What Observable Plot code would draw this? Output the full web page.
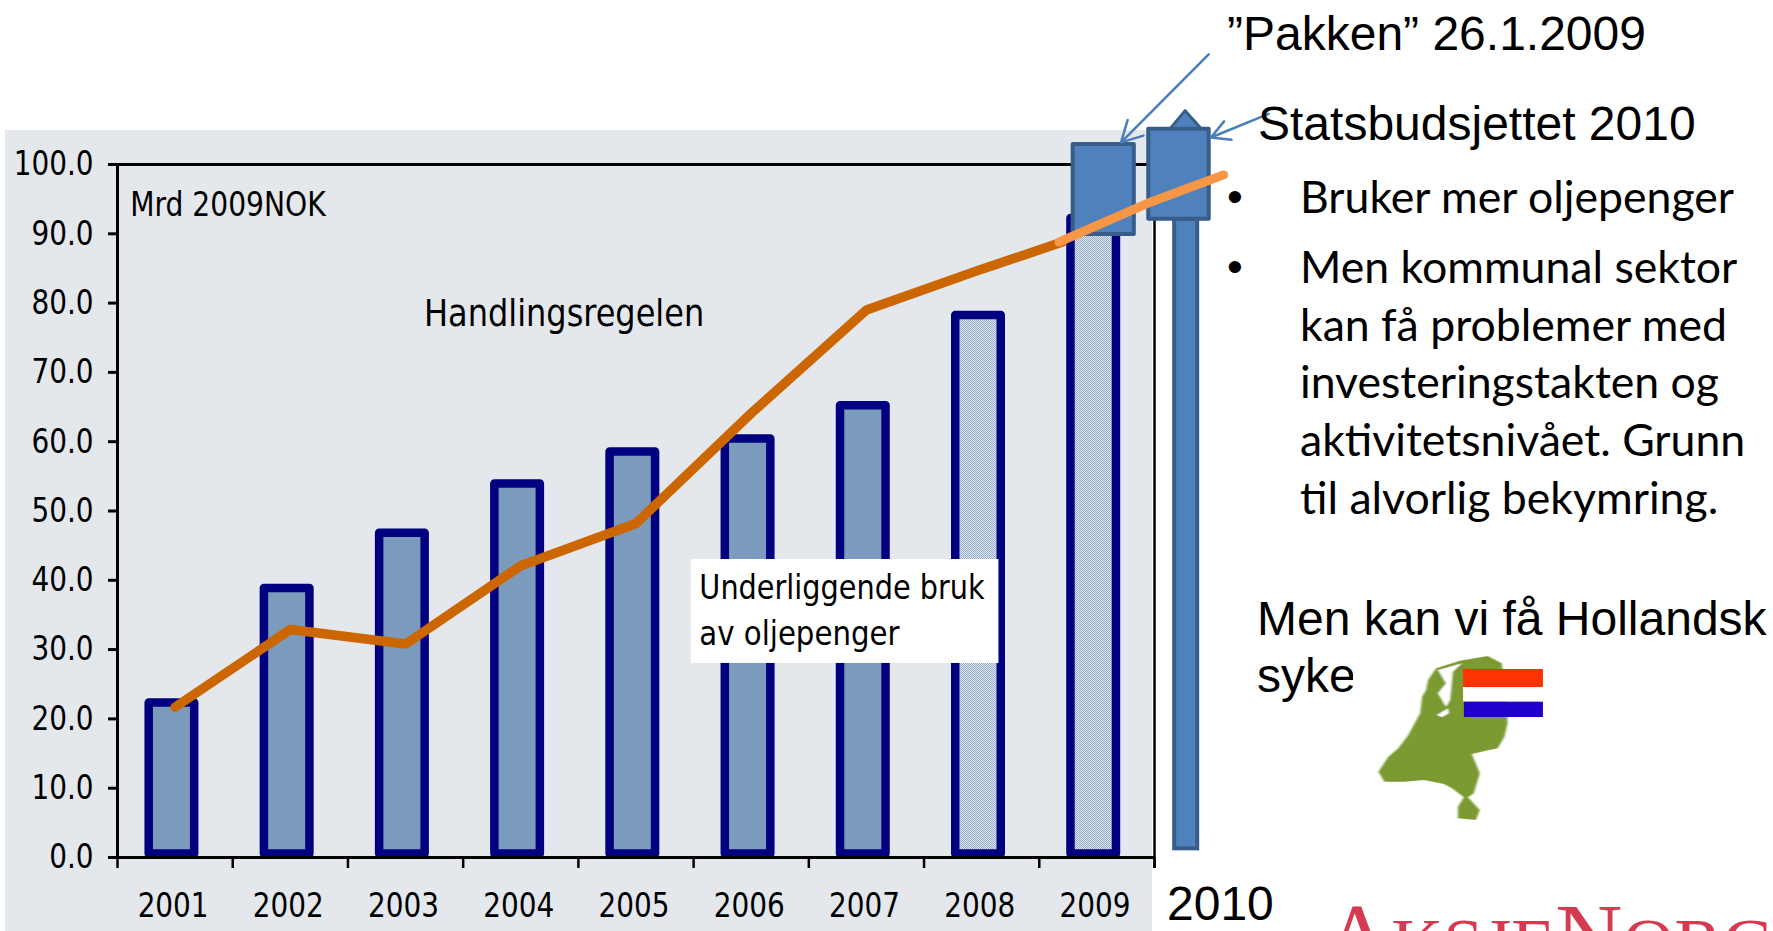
<!DOCTYPE html>
<html><head><meta charset="utf-8">
<script src="https://cdn.jsdelivr.net/npm/d3@7"></script>
<script src="https://cdn.jsdelivr.net/npm/@observablehq/plot@0.6"></script>
<style>
html,body{margin:0;padding:0;background:#fff;overflow:hidden}
#page{position:relative;width:1773px;height:931px;overflow:hidden;background:#fff}
#bg{position:absolute;left:5px;top:130px;width:1147px;height:801px;background:#e4e8ed}
#chart{position:absolute;left:0;top:0}
#chart svg{overflow:visible;background:transparent}
#mask{position:absolute;left:1353px;top:655px;width:230px;height:175px;background:#fff}
</style></head><body>
<div id="page"><div id="bg"></div><div id="chart"></div><div id="over"></div></div>
<script>
const years = [2001,2002,2003,2004,2005,2006,2007,2008,2009];
const barValues = [22.3,38.8,46.8,53.9,58.5,60.4,65.2,78.2,92.2];
const lineYears = [2001,2002,2003,2004,2005,2006,2007,2008,2008.7];
const lineValues = [21.7,32.9,30.8,42.1,48.2,64.1,79.0,84.9,88.8];
const lightYears = [2008.67,2009.44,2010.1];
const lightValues = [88.8,94.4,98.5];
const boundaries = [2000.5,2001.5,2002.5,2003.5,2004.5,2005.5,2006.5,2007.5,2008.5,2009.5];
const yTicks = [0,10,20,30,40,50,60,70,80,90,100];
const chartFont = "'DejaVu Sans Condensed','DejaVu Sans',sans-serif";
const barTable = years.map((y,i)=>({year:y,value:barValues[i],pattern:y>=2008}));
const lineTable = lineYears.map((y,i)=>({year:y,value:lineValues[i]}));
const lightTable = lightYears.map((y,i)=>({year:y,value:lightValues[i]}));
const capTable = [{x:2009.64,y:105.1},{x:2009.77,y:107.7},{x:2009.91,y:105.1}];
const boxes = [
  {x1:2008.794,x2:2009.325,y1:89.9,y2:102.9},
  {x1:2009.45,x2:2009.975,y1:92.1,y2:105.1}
];
const arrows = [
  {x1:2009.97,y1:115.9,x2:2009.21,y2:103.2},
  {x1:2010.49,y1:107.3,x2:2009.99,y2:103.9}
];
const blue="#4f81bd", blueDark="#385d8a", navy="#000080";

const defs = () => {
  const s = d3.create("svg:defs");
  const p = s.append("pattern").attr("id","stipple").attr("width",2).attr("height",2).attr("patternUnits","userSpaceOnUse");
  p.append("rect").attr("width",2).attr("height",2).attr("fill","#dfe6ee");
  p.append("rect").attr("width",1).attr("height",1).attr("fill","#93aecb");
  p.append("rect").attr("x",1).attr("y",1).attr("width",1).attr("height",1).attr("fill","#93aecb");
  return s.node();
};

const plot = Plot.plot({
  width:1773,height:931,marginLeft:117,marginRight:619,marginTop:164,marginBottom:74,
  style:{fontFamily:chartFont,background:"transparent",overflow:"visible"},
  x:{domain:[2000.5,2009.5],axis:null},
  y:{domain:[0,100],axis:null},
  marks:[
    defs,
    Plot.rect(barTable,{x1:d=>d.year-0.225,x2:d=>d.year+0.17,y1:0.5,y2:"value",
      fill:d=>d.pattern?"url(#stipple)":"#7a9bbc",stroke:navy,strokeWidth:8.5,strokeLinejoin:"round"}),
    Plot.ruleY([100],{stroke:"#000",strokeWidth:3}),
    Plot.ruleY([0],{stroke:"#000",strokeWidth:3}),
    Plot.ruleX([2000.5],{y1:0,y2:100,stroke:"#000",strokeWidth:3}),
    Plot.ruleX([2009.5],{y1:-1.6,y2:100,stroke:"#000",strokeWidth:2.5}),
    Plot.axisY({ticks:yTicks,tickFormat:d=>d.toFixed(1),tickSize:9,tickPadding:15,fontSize:31,strokeWidth:3,stroke:"#000",label:null,color:"#000"}),
    Plot.axisX({ticks:boundaries,tickFormat:()=>"",tickSize:11,strokeWidth:2.5,stroke:"#000",label:null}),
    Plot.axisX({ticks:years,tickFormat:d=>String(d),tickSize:0,tickPadding:35,dx:-2,fontSize:31,label:null}),
    Plot.line(lineTable,{x:"year",y:"value",stroke:"#cc6600",strokeWidth:9.5,strokeLinejoin:"miter"}),
    Plot.rect([{x1:2005.48,x2:2008.15,y1:28,y2:43}],{x1:"x1",x2:"x2",y1:"y1",y2:"y2",fill:"#fff"}),
    Plot.text(["Mrd 2009NOK"],{x:2000.61,y:94.2,text:d=>d,textAnchor:"start",fontSize:31,fill:"#000"}),
    Plot.text(["Handlingsregelen"],{x:2003.16,y:78.5,text:d=>d,textAnchor:"start",fontSize:35,fill:"#000"}),
    Plot.text(["Underliggende bruk"],{x:2005.55,y:38.9,text:d=>d,textAnchor:"start",fontSize:31,fill:"#000"}),
    Plot.text(["av oljepenger"],{x:2005.55,y:32.3,text:d=>d,textAnchor:"start",fontSize:31,fill:"#000"}),
    Plot.areaY(capTable,{x:"x",y1:105.1,y2:"y",fill:blue,stroke:blueDark,strokeWidth:3}),
    Plot.rect([0],{x1:2009.675,x2:2009.875,y1:1.25,y2:92.1,fill:blue,stroke:blueDark,strokeWidth:4}),
    Plot.rect(boxes,{x1:"x1",x2:"x2",y1:"y1",y2:"y2",fill:blue,stroke:blueDark,strokeWidth:4,strokeLinejoin:"round"}),
    Plot.line(lightTable,{x:"year",y:"value",stroke:"#f79646",strokeWidth:9}),
    Plot.arrow(arrows,{x1:"x1",y1:"y1",x2:"x2",y2:"y2",stroke:"#4a7ebb",strokeWidth:2.5,headLength:14,bend:0,headAngle:57,inset:0})
  ]
});
document.getElementById("chart").append(plot);

// The reference's chart font is tall and narrow: enlarge the glyphs, keep the run length.
const stretch = {"Handlingsregelen":[38,1.016],"Underliggende bruk":[34,1.03],"av oljepenger":[34,1.047],"Mrd 2009NOK":[34,1.01]};
plot.querySelectorAll("text").forEach(t=>{
  const cfg = stretch[t.textContent] || [34,1.0];
  const targets = t.querySelector("tspan") ? [...t.querySelectorAll("tspan")] : [t];
  targets.forEach(n=>{
    const len = n.getComputedTextLength();
    if(!len) return;
    n.setAttribute("font-size",cfg[0]); n.style.fontSize=cfg[0]+"px";
    n.setAttribute("textLength",len*cfg[1]);
    n.setAttribute("lengthAdjust","spacingAndGlyphs");
  });
});

const sansFont="'Liberation Sans',Arial,sans-serif", bodyFont="Lato,'Noto Sans',sans-serif";
const overlayTexts = [
  {s:"\u201dPakken\u201d 26.1.2009",x:1227,b:50,f:48,c:sansFont},
  {s:"Statsbudsjettet 2010",x:1258,b:140,f:48,c:sansFont},
  {s:"2010",x:1167,b:920,f:48,c:sansFont},
  {s:"\u2022",x:1227,b:212,f:45,c:sansFont},
  {s:"Bruker mer oljepenger",x:1300,b:213,f:44.6,c:bodyFont},
  {s:"\u2022",x:1227,b:282,f:45,c:sansFont},
  {s:"Men kommunal sektor",x:1300,b:283,f:44.6,c:bodyFont},
  {s:"kan f\u00e5 problemer med",x:1300,b:341,f:44.6,c:bodyFont},
  {s:"investeringstakten og",x:1300,b:398,f:44.6,c:bodyFont},
  {s:"aktivitetsniv\u00e5et. Grunn",x:1300,b:456,f:44.6,c:bodyFont},
  {s:"til alvorlig bekymring.",x:1300,b:514,f:44.6,c:bodyFont},
  {s:"Men kan vi f\u00e5 Hollandsk",x:1257,b:635,f:48,c:sansFont},
  {s:"syke",x:1257,b:692,f:48,c:sansFont}
];
const over=d3.select("#over");
const ts=over.append("svg").attr("width",1773).attr("height",931).style("position","absolute").style("left",0).style("top",0);
ts.selectAll("text").data(overlayTexts).join("text")
  .attr("x",d=>d.x).attr("y",d=>d.b).attr("font-size",d=>d.f).attr("font-family",d=>d.c).attr("fill","#000").text(d=>d.s);
document.getElementById("over").insertAdjacentHTML("beforeend",`<div id="mask"></div>
<svg style="position:absolute;left:1150px;top:600px" width="623" height="331" viewBox="0 0 1568 993" preserveAspectRatio="none">
<defs><filter id="soft"><feGaussianBlur stdDeviation="2.2 1.2"/></filter></defs>
<g filter="url(#soft)">
<path fill="#7b9a30" d="M700 240 L720 205 L780 182 L850 168 L885 190 L895 260 L900 370 L892 410 L875 445 L845 452 L810 462 L830 520 L815 580 L800 592 L830 630 L820 660 L775 655 L775 620 L790 592 L760 565 L740 552 L690 540 L640 545 L590 545 L575 515 L600 470 L625 445 L650 405 L680 340 L685 290 L695 270 Z"/>
<path fill="#fff" d="M725 210 L785 190 L762 215 L755 300 L745 320 L725 280 L745 250 Z"/>
<path fill="#fff" d="M722 345 L750 325 L752 340 L735 352 Z"/>
</g>
<rect x="788" y="207" width="201" height="54" fill="#ff3300"/>
<rect x="788" y="261" width="201" height="44" fill="#fff"/>
<rect x="790" y="305" width="199" height="46" fill="#2200cc"/>
</svg>
<svg style="position:absolute;left:0;top:0" width="1773" height="931"><text x="1324" y="968" font-family="Liberation Serif" font-size="93" fill="#d63a50"><tspan>A</tspan><tspan font-size="72">KSJE</tspan><tspan>N</tspan><tspan font-size="72">ORGE</tspan></text></svg>`);
</script>
</body></html>
